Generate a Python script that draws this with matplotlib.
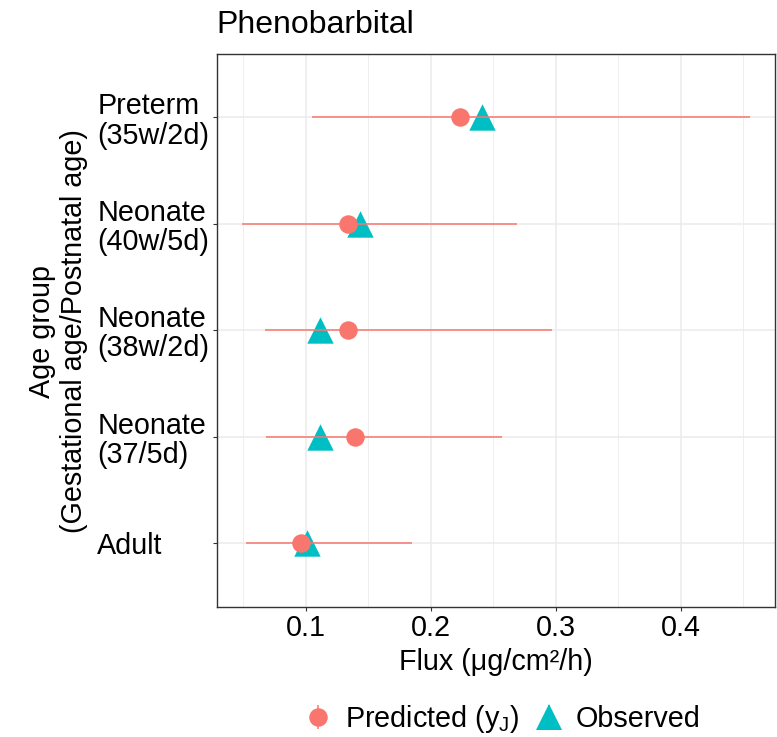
import matplotlib
matplotlib.use("Agg")
import matplotlib.pyplot as plt
from matplotlib.lines import Line2D
from matplotlib.legend_handler import HandlerTuple
import numpy as np

plt.rcParams['font.family'] = ['Liberation Sans', 'DejaVu Sans']

# ---- data ----
categories = ["Preterm\n(35w/2d)", "Neonate\n(40w/5d)", "Neonate\n(38w/2d)",
              "Neonate\n(37/5d)", "Adult"]
predicted = [0.223, 0.134, 0.134, 0.139, 0.096]
pred_low = [0.105, 0.049, 0.067, 0.068, 0.052]
pred_high = [0.455, 0.269, 0.297, 0.257, 0.185]
observed = [0.241, 0.143, 0.111, 0.111, 0.101]
x_ticks = [0.1, 0.2, 0.3, 0.4]

RED = "#F8766D"
TEAL = "#00BFC4"
FS = 20.7

W, H = 777, 737
fig = plt.figure(figsize=(W / 100, H / 100), dpi=100)
L, R, T, B = 216.7, 775.0, 53.6, 606.7
ax = fig.add_axes([L / W, (H - B) / H, (R - L) / W, (B - T) / H])

n = len(categories)
ypos = np.arange(n)[::-1]  # Preterm at top

ax.scatter(observed, ypos, marker='^', s=19 ** 2, color=TEAL, zorder=3, linewidths=0)
ax.hlines(ypos, pred_low, pred_high, color=RED, linewidth=1.1, zorder=4)
ax.scatter(predicted, ypos, marker='o', s=13.3 ** 2, color=RED, zorder=5, linewidths=0)

lo = min(pred_low + observed + predicted)
hi = max(pred_high + observed + predicted)
rng = hi - lo
ax.set_xlim(lo - 0.05 * rng, hi + 0.05 * rng)
ax.set_ylim(-0.6, n - 1 + 0.6)

ax.set_xticks(x_ticks)
ax.set_xticklabels([f"{v:.1f}" for v in x_ticks])
ax.set_xticks([0.05, 0.15, 0.25, 0.35, 0.45], minor=True)
ax.set_yticks(ypos)
ax.set_yticklabels(categories, ha='left', multialignment='left', linespacing=1.05)

tick_len_pt = 4 * 0.72
ax.tick_params(axis='both', which='major', labelsize=FS, color='#333333',
               length=tick_len_pt, width=0.8, labelcolor='black')
ax.tick_params(axis='x', which='major', pad=2.5)
ax.tick_params(axis='y', which='major', pad=(L - 97.3) * 0.72 - tick_len_pt)
ax.tick_params(axis='x', which='minor', length=0)

ax.grid(True, which='major', color='#EBEBEB', linewidth=1.1, zorder=0)
ax.grid(True, which='minor', axis='x', color='#EBEBEB', linewidth=0.55, zorder=0)
ax.set_axisbelow(True)
for sp in ax.spines.values():
    sp.set_color('#333333')
    sp.set_linewidth(1.0)

ax.set_xlabel("Flux (μg/cm²/h)", fontsize=FS, labelpad=4)
fig.text(58 / W, 1 - 331 / H, "Age group\n(Gestational age/Postnatal age)",
         rotation=90, ha='center', va='center', fontsize=FS, multialignment='center',
         linespacing=1.22)
fig.text(L / W, 1 - 25 / H, "Phenobarbital", fontsize=23, ha='left', va='center')

# legend
h_pred = (Line2D([], [], linestyle='none', marker='|', markersize=17, color=RED, markeredgewidth=1.1),
          Line2D([], [], linestyle='none', marker='o', markersize=13.3, color=RED, markeredgewidth=0))
h_obs = (Line2D([], [], linestyle='none', marker='|', markersize=17, color=TEAL, markeredgewidth=1.1),
         Line2D([], [], linestyle='none', marker='^', markersize=19, color=TEAL, markeredgewidth=0))
fig.legend([h_pred, h_obs], ["Predicted (y$_\\mathregular{J}$)", "Observed"],
           handler_map={tuple: HandlerTuple(ndivide=1, pad=0)},
           loc='center', bbox_to_anchor=(502 / W, 1 - 719 / H), ncol=2, frameon=False,
           fontsize=FS, handlelength=1.0, handletextpad=0.42, columnspacing=0.55)

fig.savefig("out.png", dpi=100)
